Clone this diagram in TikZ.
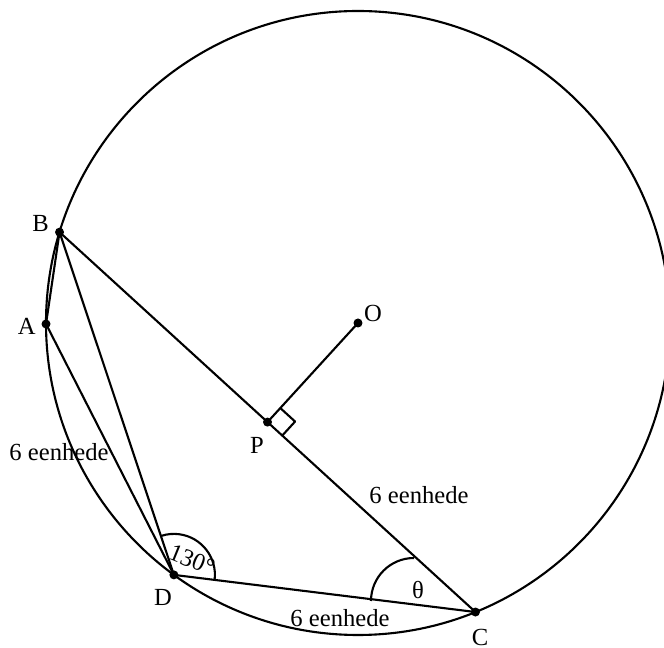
\documentclass[tikz,border=0pt]{standalone}
\usepackage{fontspec}
\setmainfont{Liberation Serif}
\usetikzlibrary{calc}
\begin{document}
\begin{tikzpicture}[x=0.02cm,y=0.02cm,
  every node/.style={font=\fontsize{14}{16}\selectfont, inner sep=0pt},
  geo/.style={line width=1.2pt, line join=round},
  dot/.style={circle, fill=black, inner sep=0pt, minimum size=0.18cm},
  lbl/.style={}]
\useasboundingbox (0,0) rectangle (664,-648);
\coordinate (Oc) at (358,-323);
% points on the circle
\node[dot] (O) at (Oc) {};
\node[dot] (B) at ($(Oc)+(163.07:312)$) {};
\node[dot] (A) at ($(Oc)+(180.18:312)$) {};
\node[dot] (D) at ($(Oc)+(233.84:312)$) {};
\node[dot] (C) at ($(Oc)+(292.12:312)$) {};
\node[dot] (P) at ($(B.center)!0.5!(C.center)$) {};
% circle
\begin{scope}
  \clip (0,0) rectangle (664,-648);
  \draw[geo] (Oc) circle (312);
\end{scope}
% chords
\draw[geo] (B.center) -- (C.center);
\draw[geo] (B.center) -- (D.center);
\draw[geo] (B.center) -- (A.center);
\draw[geo] (A.center) -- (D.center);
\draw[geo] (D.center) -- (C.center);
\draw[geo] (P.center) -- (O.center);
% right angle mark at P
\coordinate (ru) at ($(P.center)!0.38cm!(O.center)$);
\coordinate (rv) at ($(P.center)!0.4cm!(C.center)$);
\draw[geo] (ru) -- ($(ru)+(rv)-(P.center)$) -- (rv);
% angle 130 at D
\draw[geo] ($(D.center)+(-7.4:41)$) arc[start angle=-7.4, end angle=108, radius=41];
% angle theta at C
\coordinate (tc) at (414,-601);
\draw[geo] ($(tc)+(180:43)$) arc[start angle=180, end angle=90, radius=43];
% labels
\node[lbl] (lB) at (40.7,-223.3) {B};
\node[lbl] (lA) at (26.7,-326.7) {A};
\node[lbl] (lO) at (373,-313) {O};
\node[lbl] (lP) at (257,-445) {P};
\node[lbl] (lD) at (163,-597) {D};
\node[lbl] (lC) at (480,-637) {C};
\node[lbl] (lth) at (418,-590) {θ};
\node[lbl, rotate=-22] (l130) at (192,-560) {130°};
\node[lbl] (e1) at (59,-452) {6 eenhede};
\node[lbl] (e2) at (419,-495) {6 eenhede};
\node[lbl] (e3) at (340,-618) {6 eenhede};
\end{tikzpicture}
\end{document}
